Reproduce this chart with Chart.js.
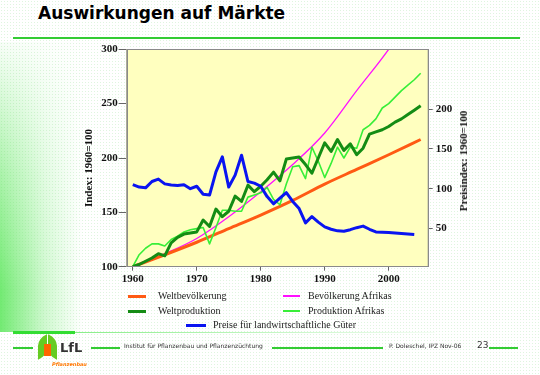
<!DOCTYPE html>
<html>
<head>
<meta charset="utf-8">
<script src="https://cdn.jsdelivr.net/npm/chart.js@4.4.1/dist/chart.umd.min.js"></script>
<style>
  body { margin: 0; }
  #page {
    position: relative; width: 540px; height: 375px; overflow: hidden;
    background-color: #fff;
    background-image: radial-gradient(rgba(140, 220, 140, 0.28) 0.6px, transparent 0.9px);
    background-size: 3px 3px;
    font-family: "DejaVu Sans", sans-serif;
  }
  #leftGlow {
    position: absolute; left: 0; top: 42px; width: 82px; height: 290px;
    background: linear-gradient(to right, rgba(90, 230, 90, 0.85), rgba(150, 240, 150, 0.45) 55%, rgba(255, 255, 255, 0));
    -webkit-mask-image: linear-gradient(to bottom, rgba(0,0,0,0.05), rgba(0,0,0,0.6) 45%, #000 85%);
  }
  #title {
    position: absolute; left: 38px; top: 3px; font: bold 17px "DejaVu Sans", sans-serif;
    line-height: 20px; color: #000; white-space: nowrap;
  }
  .hline { position: absolute; background: #3c3; }
  canvas { position: absolute; left: 0; top: 0; }
  .axisTitle {
    position: absolute; font: bold 11px "Liberation Serif", serif; color: #111;
    white-space: nowrap; transform: translate(-50%, -50%) rotate(-90deg);
  }
  .legText { position: absolute; font: 10px "Liberation Serif", serif; color: #222; white-space: nowrap; line-height: 12px; }
  .legLine { position: absolute; }
  .foot { position: absolute; font: 6px "DejaVu Sans", sans-serif; color: #333; white-space: nowrap; line-height: 8px; }
</style>
</head>
<body>
<div id="page">
  <div id="leftGlow"></div>
  <div id="title">Auswirkungen auf Märkte</div>
  <div class="hline" style="left:13px; top:37px; width:507px; height:2px;"></div>

  <canvas id="chart" width="540" height="375"></canvas>

  <div class="axisTitle" style="left:88px; top:168px;">Index: 1960=100</div>
  <div class="axisTitle" style="left:463px; top:161px;">Preisindex: 1960=100</div>

  <div id="legend"></div>

  <div class="hline" style="left:13px; top:331px; width:62px; height:3px; background:#3d3;"></div>
  <div class="hline" style="left:75px; top:332px; width:360px; height:1px; background:linear-gradient(to right, #8e8, rgba(200,245,200,0.2));"></div>

  <!-- footer -->
  <div class="hline" style="left:13px; top:347px; width:20px; height:1.5px;"></div>
  <div style="position:absolute; left:38px; top:336px; width:9px; height:22px; background:#6c2; border-radius:8px 0 8px 0; transform:skewY(-20deg);"></div>
  <div style="position:absolute; left:48px; top:336px; width:9px; height:22px; background:#6c2; border-radius:0 8px 0 8px; transform:skewY(20deg);"></div>
  <div style="position:absolute; left:44px; top:344px; width:7px; height:12px; background:#f60;"></div>
  <div style="position:absolute; left:60px; top:340px; font:bold 13px 'DejaVu Sans', sans-serif; color:#333;">LfL</div>
  <div style="position:absolute; left:52px; top:361px; font:italic bold 5px 'DejaVu Sans', sans-serif; color:#f70;">Pflanzenbau</div>
  <div class="hline" style="left:91px; top:347px; width:29px; height:1.5px;"></div>
  <div class="foot" style="left:124px; top:342px;">Institut für Pflanzenbau und Pflanzenzüchtung</div>
  <div class="hline" style="left:272px; top:347px; width:111px; height:1.5px;"></div>
  <div class="foot" style="left:389px; top:342px;">P. Doleschel, IPZ Nov-06</div>
  <div class="foot" style="left:477px; top:340px; font-size:9px; line-height:11px;">23</div>
  <div class="hline" style="left:489px; top:347px; width:29px; height:1.5px;"></div>
</div>

<script>
// years on the x axis
const years = Array.from({ length: 46 }, (_, i) => 1960 + i);
const popYears = [1960, 1965, 1970, 1975, 1980, 1985, 1990, 1995, 2000, 2005];
const priceYears = years.slice(0, 45);

// left axis, Index 1960=100
const worldPopulation = [100, 111, 122.5, 135, 147.5, 161, 176, 189.5, 203, 217];
const africaPopulation = [100, 112, 126, 146, 169, 194, 223, 262, 300, 345];
const worldProduction = [
  100, 102, 105, 108, 112, 110, 122, 127, 130, 131,
  132, 143, 137, 153, 146, 151, 165, 160, 175, 169,
  174, 180, 187, 179, 199, 200, 201, 194, 186, 200,
  214, 206, 217, 207, 213, 203, 209, 222, 224, 226,
  229, 233, 236, 240, 244, 248
];
const africaProduction = [
  100, 111, 117, 121, 121, 119, 125, 128, 132, 134,
  135, 136, 121, 136, 152, 152, 151, 151, 164, 166,
  168, 173, 162, 157, 176, 192, 193, 181, 210, 197,
  182, 195, 210, 200, 210, 209, 226, 230, 236, 246,
  250, 256, 262, 267, 272, 278
];

// right axis, Preisindex
const prices = [
  105, 102, 101, 109, 112, 106, 104.5, 104, 105, 100,
  103, 93, 92, 121, 140, 102, 117, 142, 109, 107,
  103, 90, 81, 88, 95, 84, 75, 57, 65, 58,
  52, 49, 47, 46.6, 48.5, 51, 53, 49, 45.7, 45.3,
  45, 44.3, 43.7, 43, 42.4
];

const xTicks = [1960, 1970, 1980, 1990, 2000];
const leftTicks = [100, 150, 200, 250, 300];
const rightTicks = [50, 100, 150, 200];

const pts = (xs, ys) => xs.map((x, i) => ({ x: x, y: ys[i] }));

const tickFont = { family: "Liberation Serif", size: 11, weight: "bold" };

const plotFrame = {
  id: "plotFrame",
  beforeDatasetsDraw(chart) {
    const a = chart.chartArea, c = chart.ctx;
    c.save();
    c.fillStyle = "#ffffbf";
    c.fillRect(a.left, a.top, a.right - a.left, a.bottom - a.top);
    c.restore();
  },
  afterDraw(chart) {
    const a = chart.chartArea, c = chart.ctx;
    c.save();
    c.strokeStyle = "#8a8a8a";
    c.lineWidth = 1;
    c.strokeRect(Math.round(a.left) + 0.5, Math.round(a.top) + 0.5,
      Math.round(a.right - a.left), Math.round(a.bottom - a.top));
    c.restore();
  }
};

const chart = new Chart(document.getElementById("chart"), {
  type: "line",
  data: {
    datasets: [
      {
        label: "Weltbevölkerung",
        data: pts(popYears, worldPopulation),
        borderColor: "#ff5a14", borderWidth: 3, yAxisID: "y", order: 4,
        cubicInterpolationMode: "monotone"
      },
      {
        label: "Bevölkerung Afrikas",
        data: pts(popYears, africaPopulation),
        borderColor: "#ff10ff", borderWidth: 1.3, yAxisID: "y", order: 5,
        cubicInterpolationMode: "monotone"
      },
      {
        label: "Weltproduktion",
        data: pts(years, worldProduction),
        borderColor: "#148c14", borderWidth: 3, yAxisID: "y", order: 2
      },
      {
        label: "Produktion Afrikas",
        data: pts(years, africaProduction),
        borderColor: "#38ee38", borderWidth: 1.6, yAxisID: "y", order: 3
      },
      {
        label: "Preise für landwirtschaftliche Güter",
        data: pts(priceYears, prices),
        borderColor: "#0a14f0", borderWidth: 3, yAxisID: "y2", order: 1
      }
    ]
  },
  options: {
    responsive: false,
    animation: false,
    devicePixelRatio: 1,
    layout: { padding: { left: 86.7, right: 72.3, top: 49.3, bottom: 88.3 } },
    elements: { point: { radius: 0 }, line: { borderJoinStyle: "round" } },
    plugins: { legend: { display: false }, tooltip: { enabled: false } },
    scales: {
      x: {
        type: "linear", min: 1959.05, max: 2006.1,
        afterBuildTicks: s => { s.ticks = xTicks.map(v => ({ value: v })); },
        afterFit: s => { s.height = 20; },
        grid: { drawOnChartArea: false, tickLength: 4, color: "#666" },
        border: { color: "#8a8a8a" },
        ticks: { callback: v => v, font: tickFont, color: "#111", padding: 2, maxRotation: 0, autoSkip: false }
      },
      y: {
        position: "left", min: 100, max: 300,
        afterBuildTicks: s => { s.ticks = leftTicks.map(v => ({ value: v })); },
        afterFit: s => { s.width = 40; },
        grid: { drawOnChartArea: false, tickLength: 8, color: "#666" },
        border: { color: "#8a8a8a" },
        ticks: { font: tickFont, color: "#111", padding: 1 }
      },
      y2: {
        position: "right", min: 2, max: 275,
        afterBuildTicks: s => { s.ticks = rightTicks.map(v => ({ value: v })); },
        afterFit: s => { s.width = 40; },
        grid: { drawOnChartArea: false, tickLength: 5, color: "#666" },
        border: { color: "#8a8a8a" },
        ticks: { font: tickFont, color: "#111", padding: 3 }
      }
    }
  },
  plugins: [plotFrame]
});

// legend below the plot, two columns and a centred last row
const legendSpots = [
  { x: 128, y: 296, len: 18, textX: 158 },
  { x: 283, y: 296, len: 17, textX: 308 },
  { x: 128, y: 311, len: 18, textX: 158 },
  { x: 283, y: 311, len: 17, textX: 308 },
  { x: 186, y: 325, len: 20, textX: 213 }
];
const legend = document.getElementById("legend");
chart.data.datasets.forEach((ds, i) => {
  const spot = legendSpots[i];
  const w = ds.borderWidth >= 3 ? 3 : 2;
  const line = document.createElement("div");
  line.className = "legLine";
  line.style.cssText = `left:${spot.x}px; top:${spot.y - w / 2}px; width:${spot.len}px; height:${w}px; background:${ds.borderColor};`;
  legend.appendChild(line);
  const txt = document.createElement("div");
  txt.className = "legText";
  txt.style.left = spot.textX + "px";
  txt.style.top = (spot.y - 6.5) + "px";
  txt.textContent = ds.label;
  legend.appendChild(txt);
});
</script>
</body>
</html>
